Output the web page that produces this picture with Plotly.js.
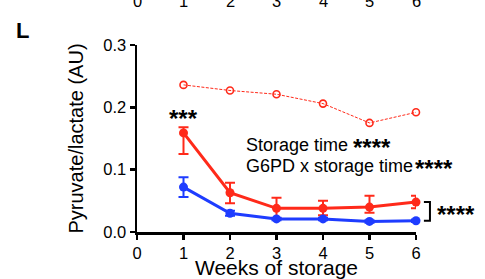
<!DOCTYPE html>
<html><head><meta charset="utf-8">
<script src="https://cdn.plot.ly/plotly-3.0.1.min.js"></script>
<style>html,body{margin:0;padding:0;background:#fff}#chart{width:485px;height:279px}</style>
</head><body><div id="chart"></div>
<script>
const weeks = [1, 2, 3, 4, 5, 6];
const xTicks = [0, 1, 2, 3, 4, 5, 6];
const yTicks = [0, 0.1, 0.2, 0.3];
const redMean = [0.159, 0.063, 0.038, 0.038, 0.040, 0.048];
const redErrUp = [0.009, 0.016, 0.017, 0.012, 0.018, 0.010];
const redErrDown = [0.034, 0.017, 0.016, 0.011, 0.009, 0.010];
const blueMean = [0.072, 0.030, 0.021, 0.021, 0.017, 0.018];
const blueErr = [0.016, 0.004, 0.002, 0.002, 0.002, 0.002];
const dashedRef = [0.236, 0.227, 0.221, 0.206, 0.175, 0.192];

const X_RANGE = [0, 6], Y_RANGE = [0, 0.3];
const RED = '#ff2a1a', BLUE = '#1e3cff';
const FONT = 'Liberation Sans, Arial, sans-serif';
const px = function (v) { return (v - X_RANGE[0]) / (X_RANGE[1] - X_RANGE[0]); };
const py = function (v) { return (v - Y_RANGE[0]) / (Y_RANGE[1] - Y_RANGE[0]); };

const traces = [
  {x: weeks, y: dashedRef, mode: 'lines+markers', cliponaxis: false,
   line: {color: RED, width: 1, dash: '3px,1.5px'},
   marker: {symbol: 'circle-open', size: 7, color: RED, line: {width: 1.6, color: RED}}},
  {x: weeks, y: redMean, mode: 'lines+markers', cliponaxis: false,
   line: {color: RED, width: 3},
   marker: {size: 9, color: RED},
   error_y: {type: 'data', symmetric: false, array: redErrUp, arrayminus: redErrDown, color: RED, thickness: 2, width: 5}},
  {x: weeks, y: blueMean, mode: 'lines+markers', cliponaxis: false,
   line: {color: BLUE, width: 3},
   marker: {size: 9, color: BLUE},
   error_y: {type: 'data', array: blueErr, color: BLUE, thickness: 2, width: 5}}
];

const annotations = [
  {text: '<b>L</b>', xref: 'paper', yref: 'paper', x: -0.41, y: 1.075, showarrow: false,
   xanchor: 'center', yanchor: 'middle', font: {family: FONT, size: 22, color: '#000'}},
  {text: '<b>***</b>', xref: 'x', yref: 'y', x: weeks[0], y: 0.182, showarrow: false,
   xanchor: 'center', yanchor: 'middle', font: {family: FONT, size: 24, color: '#000'}},
  {text: 'Storage time', xref: 'x', yref: 'y', x: 2.3, y: 0.140, showarrow: false,
   xanchor: 'left', yanchor: 'middle', font: {family: FONT, size: 18, color: '#000'}},
  {text: '<b>****</b>', xref: 'x', yref: 'y', x: 4.6, y: 0.136, showarrow: false,
   xanchor: 'left', yanchor: 'middle', font: {family: FONT, size: 24, color: '#000'}},
  {text: 'G6PD x storage time', xref: 'x', yref: 'y', x: 2.3, y: 0.106, showarrow: false,
   xanchor: 'left', yanchor: 'middle', font: {family: FONT, size: 18, color: '#000'}},
  {text: '<b>****</b>', xref: 'x', yref: 'y', x: 5.94, y: 0.102, showarrow: false,
   xanchor: 'left', yanchor: 'middle', font: {family: FONT, size: 24, color: '#000'}},
  {text: '<b>****</b>', xref: 'paper', yref: 'paper', x: px(6.4), y: py(0.028), showarrow: false,
   xanchor: 'left', yanchor: 'middle', font: {family: FONT, size: 24, color: '#000'}}
];
xTicks.forEach(function (t) {
  annotations.push({text: String(t), xref: 'x', yref: 'paper', x: t, y: 1.235, showarrow: false,
    xanchor: 'center', yanchor: 'middle', font: {family: FONT, size: 16.5, color: '#000'}});
});

const layout = {
  width: 485, height: 279,
  margin: {l: 137, r: 69, t: 45, b: 47},
  paper_bgcolor: '#fff', plot_bgcolor: '#fff',
  showlegend: false,
  font: {family: FONT, color: '#000'},
  xaxis: {range: X_RANGE, tickvals: xTicks, ticktext: xTicks.map(String),
    showgrid: false, zeroline: false, showline: true, linecolor: '#000', linewidth: 2.5,
    ticks: 'outside', ticklen: 5, tickwidth: 2.5, tickcolor: '#000',
    tickfont: {family: FONT, size: 16.5, color: '#000'},
    title: {text: 'Weeks of storage', font: {family: FONT, size: 21, color: '#000'}, standoff: 5}},
  yaxis: {range: Y_RANGE, tickvals: yTicks, tickformat: '.1f',
    showgrid: false, zeroline: false, showline: true, linecolor: '#000', linewidth: 2.5,
    ticks: 'outside', ticklen: 5, tickwidth: 2.5, tickcolor: '#000',
    tickfont: {family: FONT, size: 16.5, color: '#000'},
    title: {text: 'Pyruvate/lactate (AU)', font: {family: FONT, size: 20, color: '#000'}, standoff: 15}},
  shapes: [
    {type: 'path', xref: 'paper', yref: 'paper', layer: 'above',
     path: 'M ' + px(6.17) + ' ' + py(redMean[5]) + ' L ' + px(6.3) + ' ' + py(redMean[5]) +
           ' L ' + px(6.3) + ' ' + py(blueMean[5]) + ' L ' + px(6.17) + ' ' + py(blueMean[5]),
     line: {color: '#000', width: 2}}
  ],
  annotations: annotations
};

Plotly.newPlot('chart', traces, layout, {staticPlot: true, displayModeBar: false});
</script></body></html>
